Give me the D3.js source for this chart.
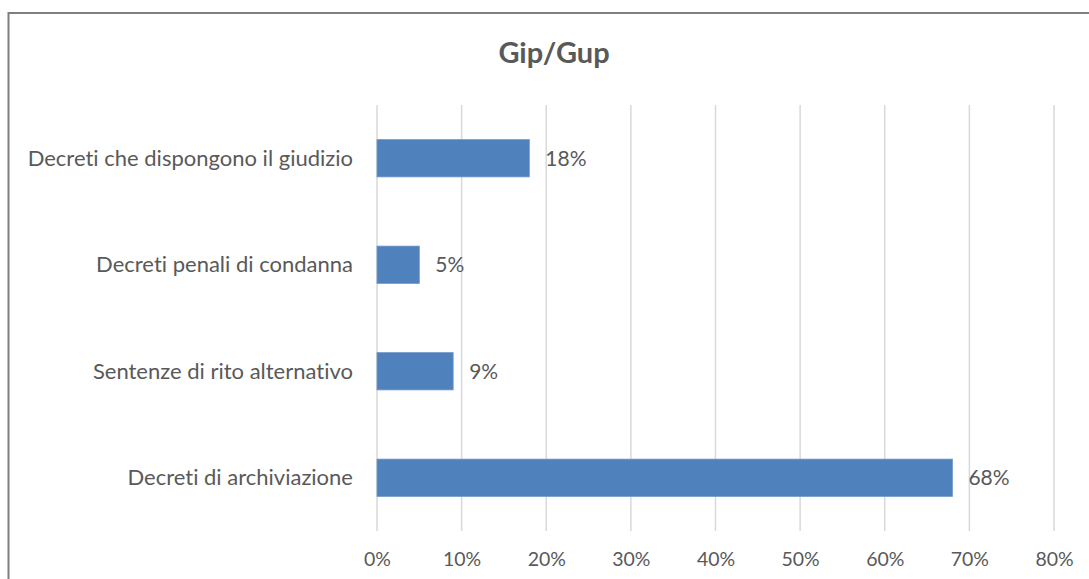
<!DOCTYPE html>
<html>
<head>
<meta charset="utf-8">
<script src="https://cdn.jsdelivr.net/npm/d3@7"></script>
<style>
  html, body { margin: 0; padding: 0; background: #fff; }
  svg { display: block; }
  text { font-family: Lato, "Open Sans", sans-serif; fill: #595959; font-variant-ligatures: none; }
</style>
</head>
<body>
<svg id="chart" width="1089" height="579"></svg>
<script>
// Gip/Gup: share of measures by type
const categories = [
  "Decreti che dispongono il giudizio",
  "Decreti penali di condanna",
  "Sentenze di rito alternativo",
  "Decreti di archiviazione"
];
const values = [18, 5, 9, 68];
const tickValues = [0, 10, 20, 30, 40, 50, 60, 70, 80];
const title = "Gip/Gup";

const svg = d3.select("#chart");

// outer chart frame (runs past the right and bottom edges)
svg.append("rect")
  .attr("x", 8.5).attr("y", 13)
  .attr("width", 1200).attr("height", 700)
  .attr("fill", "#fff")
  .attr("stroke", "#7f7f7f")
  .attr("stroke-width", 2);

const plot = { left: 377, right: 1054, top: 105, bottom: 531 };

const x = d3.scaleLinear().domain([0, 80]).range([plot.left, plot.right]);
const y = d3.scaleBand().domain(categories)
  .range([plot.top, plot.bottom])
  .paddingInner(0.65).paddingOuter(0.325);

// vertical gridlines
svg.append("g")
  .selectAll("line")
  .data(tickValues)
  .join("line")
  .attr("x1", d => x(d)).attr("x2", d => x(d))
  .attr("y1", plot.top).attr("y2", plot.bottom)
  .attr("stroke", "#d9d9d9")
  .attr("stroke-width", 1.5);

// x axis labels
const xAxis = d3.axisBottom(x).tickValues(tickValues).tickSize(0).tickPadding(0)
  .tickFormat(d => d + "%");
const gx = svg.append("g").attr("transform", `translate(0,${plot.bottom})`).call(xAxis);
gx.select(".domain").remove();
gx.selectAll("text")
  .attr("dy", null)
  .attr("y", 35)
  .style("font-size", "19.5px")
  .style("font-family", "Lato, 'Open Sans', sans-serif")
  .attr("fill", "#595959");

// y axis labels
const yAxis = d3.axisLeft(y).tickSize(0).tickPadding(24);
const gy = svg.append("g").attr("transform", `translate(${plot.left},0)`).call(yAxis);
gy.select(".domain").remove();
gy.selectAll("text")
  .attr("dy", "0.35em")
  .style("font-size", "22px")
  .style("font-family", "Lato, 'Open Sans', sans-serif")
  .attr("fill", "#595959");

// bars
const rows = categories.map((c, i) => ({ c, v: values[i] }));
svg.append("g")
  .selectAll("rect")
  .data(rows)
  .join("rect")
  .attr("x", x(0))
  .attr("y", d => y(d.c))
  .attr("width", d => x(d.v) - x(0))
  .attr("height", y.bandwidth())
  .attr("fill", "#4f81bd")
  .attr("stroke", "#6f97c9")
  .attr("stroke-width", 0.8);

// value labels
svg.append("g")
  .selectAll("text")
  .data(rows)
  .join("text")
  .attr("x", d => x(d.v) + 16)
  .attr("y", d => y(d.c) + y.bandwidth() / 2)
  .attr("dy", "0.35em")
  .style("font-size", "21px")
  .text(d => d.v + "%");

// title
svg.append("text")
  .attr("x", 554).attr("y", 63)
  .attr("text-anchor", "middle")
  .style("font-size", "29px")
  .style("font-weight", "bold")
  .text(title);
</script>
</body>
</html>
